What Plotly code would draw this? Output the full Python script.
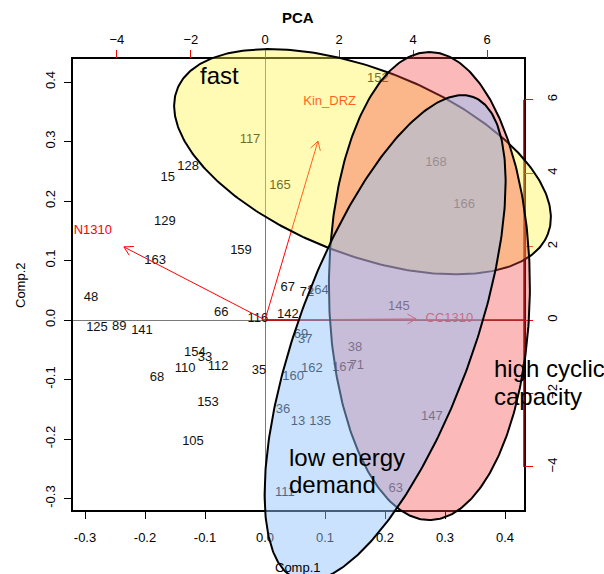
import numpy as np
import plotly.graph_objects as go

# ---------------- data ----------------
labels = ["152", "117", "128", "15", "165", "168", "166", "129", "159", "163",
          "48", "66", "116", "142", "67", "72", "164", "145", "125", "89",
          "141", "154", "33", "110", "112", "68", "35", "69", "37", "38",
          "162", "160", "167", "71", "153", "36", "13", "135", "105", "147",
          "111", "63"]
comp1 = [0.188, -0.025, -0.128, -0.162, 0.025, 0.285, 0.332, -0.167, -0.040, -0.183,
         -0.290, -0.073, -0.012, 0.038, 0.038, 0.070, 0.088, 0.223, -0.280, -0.243,
         -0.205, -0.117, -0.100, -0.133, -0.078, -0.180, -0.010, 0.060, 0.067, 0.150,
         0.078, 0.047, 0.130, 0.153, -0.095, 0.030, 0.055, 0.092, -0.120, 0.278,
         0.033, 0.218]
comp2 = [0.405, 0.3025, 0.257, 0.239, 0.225, 0.264, 0.193, 0.165, 0.116, 0.099,
         0.037, 0.013, 0.002, 0.008, 0.054, 0.045, 0.049, 0.022, -0.013, -0.012,
         -0.018, -0.055, -0.064, -0.082, -0.079, -0.097, -0.086, -0.024, -0.034, -0.047,
         -0.082, -0.096, -0.081, -0.077, -0.139, -0.151, -0.171, -0.171, -0.205, -0.163,
         -0.291, -0.284]

var_names = ["N1310", "Kin_DRZ", "CC1310"]
load1 = [-3.81, 1.43, 4.08]
load2 = [1.99, 4.87, 0.03]

# groups (ellipses in Comp.1/Comp.2 units)
group_names = ["fast", "high cyclic capacity", "low energy demand"]
ell_cx = [0.1625, 0.274, 0.2002]
ell_cy = [0.266, 0.0571, -0.0304]
ell_a = [0.332, 0.3933, 0.4309]
ell_b = [0.1555, 0.1675, 0.1459]
ell_angle = [-21.6, 90.0, 70.1]
ell_fill = ["rgba(255,245,70,0.40)", "rgba(245,60,60,0.36)", "rgba(145,195,250,0.48)"]

bottom_ticks = [-0.3, -0.2, -0.1, 0.0, 0.1, 0.2, 0.3, 0.4]
left_ticks = [-0.3, -0.2, -0.1, 0.0, 0.1, 0.2, 0.3, 0.4]
top_ticks = [-4, -2, 0, 2, 4, 6]
right_ticks = [-4, -2, 0, 2, 4, 6]

# ---------------- layout geometry (window pixels) ----------------
W, H = 604, 574
PX0, PX1, PY0, PY1 = 73, 524, 59, 510     # plot box in pixels
X_ORIG, X_SCALE = 265.0, 600.0            # pixel of x=0, px per unit
Y_ORIG, Y_SCALE = 320.0, 595.0
RATIO = 16.2                              # loadings units per score unit
FONT = "Liberation Sans, Arial, Helvetica, sans-serif"

XMIN, XMAX = (PX0 - X_ORIG) / X_SCALE, (PX1 - X_ORIG) / X_SCALE
YMIN, YMAX = (Y_ORIG - PY1) / Y_SCALE, (Y_ORIG - PY0) / Y_SCALE
FXMIN, FXMAX = (0 - X_ORIG) / X_SCALE, (W - X_ORIG) / X_SCALE
FYMIN, FYMAX = (Y_ORIG - H) / Y_SCALE, (Y_ORIG - 0) / Y_SCALE


def px(x):
    return x / W


def py(y):
    return 1 - y / H


fig = go.Figure()

# dark red line along the positive Comp.1 zero axis
fig.add_trace(go.Scatter(x=[0, XMAX], y=[0, 0], mode="lines",
                         line=dict(color="#8b0000", width=1.3),
                         xaxis="x", yaxis="y", hoverinfo="skip", showlegend=False))

# observation labels
fig.add_trace(go.Scatter(x=comp1, y=comp2, text=labels, mode="text",
                         textposition="middle center",
                         textfont=dict(family=FONT, size=13, color="#111111"),
                         xaxis="x", yaxis="y", hoverinfo="skip", showlegend=False))

# loading arrows (top / right scale)
head_len = 0.27
for name, lx, ly in zip(var_names, load1, load2):
    L = np.hypot(lx, ly)
    dx, dy = lx / L, ly / L
    hx, hy = [], []
    for ang in (np.pi / 6, -np.pi / 6):
        rx = dx * np.cos(ang) - dy * np.sin(ang)
        ry = dx * np.sin(ang) + dy * np.cos(ang)
        hx += [lx - head_len * rx, lx, None]
        hy += [ly - head_len * ry, ly, None]
    fig.add_trace(go.Scatter(x=[0, lx, None] + hx, y=[0, ly, None] + hy, mode="lines",
                             line=dict(color="red", width=1),
                             xaxis="x2", yaxis="y2", hoverinfo="skip", showlegend=False))
    fig.add_trace(go.Scatter(x=[lx * 1.22], y=[ly * 1.22], text=[name], mode="text",
                             textfont=dict(family=FONT, size=13, color="red"),
                             xaxis="x2", yaxis="y2", hoverinfo="skip", showlegend=False))

# right axis line (red, over black box)
fig.add_trace(go.Scatter(x=[XMAX, XMAX], y=[right_ticks[0] / RATIO, right_ticks[-1] / RATIO],
                         mode="lines", line=dict(color="#8b0000", width=1.5),
                         xaxis="x3", yaxis="y3", hoverinfo="skip", showlegend=False))

# group ellipses (drawn on a full-figure layer so they can leave the box)
t = np.linspace(0, 2 * np.pi, 361)
for cx, cy, a, b, ang, fc in zip(ell_cx, ell_cy, ell_a, ell_b, ell_angle, ell_fill):
    th = np.deg2rad(ang)
    ex = cx + a * np.cos(t) * np.cos(th) - b * np.sin(t) * np.sin(th)
    ey = cy + a * np.cos(t) * np.sin(th) + b * np.sin(t) * np.cos(th)
    fig.add_trace(go.Scatter(x=ex, y=ey, mode="lines", fill="toself", fillcolor=fc,
                             line=dict(color="black", width=2),
                             xaxis="x3", yaxis="y3", hoverinfo="skip", showlegend=False))

ann = []
ann.append(dict(text="<b>PCA</b>", x=px(298), y=py(18), xref="paper", yref="paper",
                xanchor="center", yanchor="middle",
                showarrow=False, font=dict(family=FONT, size=15, color="black")))
ann.append(dict(text="Comp.1", x=px(298), y=py(567), xref="paper", yref="paper",
                xanchor="center", yanchor="middle",
                showarrow=False, font=dict(family=FONT, size=13, color="black")))
ann.append(dict(text="Comp.2", x=px(20), y=py(285), xref="paper", yref="paper",
                xanchor="center", yanchor="middle",
                textangle=-90, showarrow=False, font=dict(family=FONT, size=13, color="black")))
# group names
grp_lines = [("fast", 198, 75), ("high cyclic", 492, 368), ("capacity", 492, 396),
             ("low energy", 287, 457), ("demand", 287, 484)]
for txt, gx, gy in grp_lines:
    ann.append(dict(text=txt, x=px(gx), y=py(gy), xref="paper", yref="paper",
                    xanchor="left", yanchor="middle", showarrow=False,
                    font=dict(family=FONT, size=24, color="black")))

fmt = lambda v: f"{v:.1f}"
axis_font = dict(family=FONT, size=13, color="black")

fig.update_layout(
    width=W, height=H,
    margin=dict(l=0, r=0, t=0, b=0),
    paper_bgcolor="white", plot_bgcolor="rgba(0,0,0,0)",
    showlegend=False,
    font=dict(family=FONT),
    annotations=ann,
    xaxis=dict(domain=[px(PX0), px(PX1)], range=[XMIN, XMAX], anchor="y",
               tickvals=bottom_ticks, ticktext=[fmt(v) for v in bottom_ticks],
               ticks="outside", ticklen=7, tickcolor="black", tickwidth=1,
               showline=True, linecolor="black", linewidth=1.5, mirror=True,
               showgrid=False, zeroline=True, zerolinecolor="#7a7a7a", zerolinewidth=1,
               tickfont=axis_font, ticklabelstandoff=8, automargin=False),
    yaxis=dict(domain=[py(PY1), py(PY0)], range=[YMIN, YMAX], anchor="x",
               tickvals=left_ticks, ticktext=[fmt(v) for v in left_ticks],
               ticks="outside", ticklen=7, tickcolor="black", tickwidth=1, tickangle=-90,
               showline=True, linecolor="black", linewidth=1.5, mirror=True,
               showgrid=False, zeroline=True, zerolinecolor="#7a7a7a", zerolinewidth=1,
               tickfont=axis_font, ticklabelstandoff=4, automargin=False),
    xaxis2=dict(overlaying="x", side="top", anchor="y", range=[XMIN * RATIO, XMAX * RATIO],
                tickvals=top_ticks, ticks="outside", ticklen=8, tickcolor="red", tickwidth=1,
                showline=False, showgrid=False, zeroline=False,
                tickfont=axis_font, ticklabelstandoff=1, automargin=False),
    yaxis2=dict(overlaying="y", side="right", anchor="x", range=[YMIN * RATIO, YMAX * RATIO],
                tickvals=right_ticks, ticks="outside", ticklen=8, tickcolor="red", tickwidth=1,
                tickangle=-90, showline=False, showgrid=False, zeroline=False,
                tickfont=axis_font, ticklabelstandoff=8, automargin=False),
    xaxis3=dict(domain=[0, 1], range=[FXMIN, FXMAX], anchor="y3", visible=False, fixedrange=True),
    yaxis3=dict(domain=[0, 1], range=[FYMIN, FYMAX], anchor="x3", visible=False, fixedrange=True),
)

fig.write_html("out.html", config={"displayModeBar": False},
               post_script="document.body.style.margin='0';document.body.style.overflow='hidden';")
